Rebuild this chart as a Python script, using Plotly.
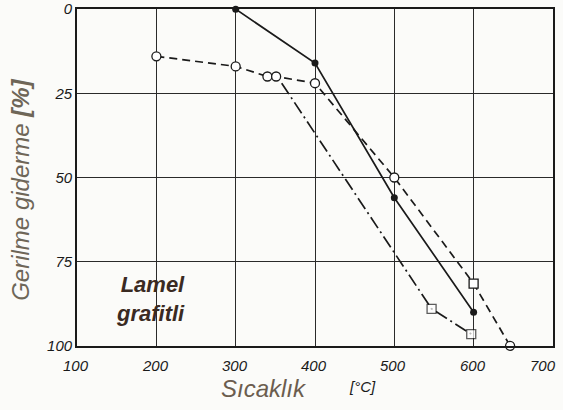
import plotly.graph_objects as go

# Stress relief (%) versus temperature (°C) for lamellar graphite cast iron
temp_solid = [300, 400, 500, 600]
relief_solid = [0, 16, 56, 90]

temp_dashed = [200, 300, 340, 351, 400, 500, 600, 646]
relief_dashed = [14, 17, 20, 20, 22, 50, 81.5, 100]
symbols_dashed = ["circle", "circle", "circle", "circle",
                  "circle", "circle", "square", "circle"]

temp_dashdot = [358, 547, 597]
relief_dashdot = [22, 89, 96.5]
symbols_dashdot = ["circle", "square", "square"]
sizes_dashdot = [0, 9, 9]

x_ticks = [100, 200, 300, 400, 500, 600, 700]
y_ticks = [0, 25, 50, 75, 100]

ink = "#1a1a1a"
paper = "#fbfbf9"
tick_font = dict(family="Liberation Sans", size=15, color=ink, style="italic")

fig = go.Figure()

fig.add_trace(go.Scatter(
    x=temp_solid, y=relief_solid, mode="lines+markers",
    line=dict(color=ink, width=1.7),
    marker=dict(symbol="circle", size=7, color=ink),
    cliponaxis=False, showlegend=False))

fig.add_trace(go.Scatter(
    x=temp_dashed, y=relief_dashed, mode="lines+markers",
    line=dict(color=ink, width=1.7, dash="8px,5px"),
    marker=dict(symbol=symbols_dashed, size=9, color="white",
                line=dict(width=1.3, color=ink)),
    cliponaxis=False, showlegend=False))

fig.add_trace(go.Scatter(
    x=temp_dashdot, y=relief_dashdot, mode="lines+markers",
    line=dict(color=ink, width=1.7, dash="13px,4px,2px,4px"),
    marker=dict(symbol=symbols_dashdot, size=sizes_dashdot, color="white",
                line=dict(width=1.3, color=ink)),
    cliponaxis=False, showlegend=False))

axis_common = dict(
    showgrid=True, gridcolor="#2a2a2a", gridwidth=1.3,
    showline=True, linecolor=ink, linewidth=1.7, mirror=True,
    zeroline=False, ticks="", tickfont=tick_font, automargin=False,
)

# x tick labels are placed as annotations so the last one can sit
# inside the page edge
fig.update_xaxes(range=[99.9, 700.1], tickvals=x_ticks,
                 showticklabels=False, **axis_common)
fig.update_yaxes(range=[100.05, -0.05], tickvals=y_ticks, **axis_common)

for i, t in enumerate(x_ticks):
    fig.add_annotation(x=t, y=-0.058, xref="x", yref="paper",
                       text=str(t), showarrow=False,
                       xshift=-10 if i == len(x_ticks) - 1 else -1,
                       font=tick_font, xanchor="center", yanchor="middle")

fig.add_annotation(x=0.393, y=-0.125, xref="paper", yref="paper",
                   text="Sıcaklık", showarrow=False,
                   font=dict(family="Liberation Sans", size=24,
                             color="#6b5d4f", style="italic"),
                   xanchor="center", yanchor="middle")
fig.add_annotation(x=0.60, y=-0.119, xref="paper", yref="paper",
                   text="[°C]", showarrow=False,
                   font=dict(family="Liberation Sans", size=15,
                             color=ink, style="italic"),
                   xanchor="center", yanchor="middle")
fig.add_annotation(x=-0.118, y=0.463, xref="paper", yref="paper",
                   text="Gerilme giderme <b>[%]</b>", showarrow=False,
                   textangle=-90,
                   font=dict(family="Liberation Sans", size=24,
                             color="#6e6658", style="italic"),
                   xanchor="center", yanchor="middle")
fig.add_annotation(x=192, y=86, xref="x", yref="y",
                   text="Lamel<br>grafitli", showarrow=False,
                   font=dict(family="Liberation Sans", size=22,
                             color="#3a2a22", style="italic", weight="bold"),
                   align="right")

fig.update_layout(
    width=563, height=410,
    margin=dict(l=77, r=10, t=9, b=64),
    paper_bgcolor=paper, plot_bgcolor=paper,
)

fig.write_html("out.html")
